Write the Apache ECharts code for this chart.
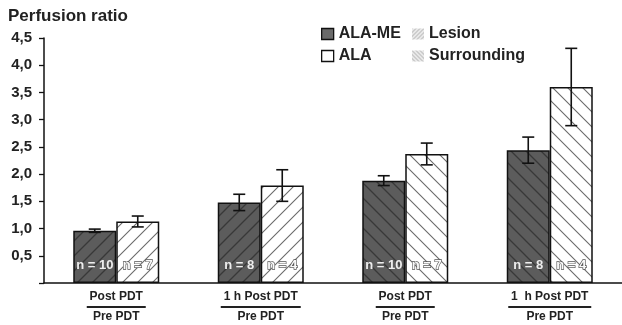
<!DOCTYPE html>
<html>
<head>
<meta charset="utf-8">
<script src="https://cdn.jsdelivr.net/npm/echarts@6/dist/echarts.min.js"></script>
<style>
html,body{margin:0;padding:0;background:#fff;}
#chart{width:622px;height:325px;}
</style>
</head>
<body>
<div id="chart"></div>
<script>
// ---- data ----
var categories = ['Lesion Post', 'Lesion 1h', 'Surrounding Post', 'Surrounding 1h'];
var regions = ['Lesion', 'Lesion', 'Surrounding', 'Surrounding'];
var numerators = ['Post PDT', '1 h Post PDT', 'Post PDT', '1  h Post PDT'];
var denominators = ['Pre PDT', 'Pre PDT', 'Pre PDT', 'Pre PDT'];
var alaMe = [0.96, 1.48, 1.88, 2.44];
var alaMeErr = [0.03, 0.15, 0.09, 0.24];
var ala = [1.13, 1.79, 2.37, 3.60];
var alaErr = [0.10, 0.29, 0.20, 0.71];
var nAlaMe = [10, 8, 10, 8];
var nAla = [7, 4, 7, 4];
var yTicks = ['', '0,5', '1,0', '1,5', '2,0', '2,5', '3,0', '3,5', '4,0', '4,5'];

var FONT = '"Liberation Sans", Arial, Helvetica, sans-serif';

function hatch(bg, fg, dir, s, lw) {
  var c = document.createElement('canvas');
  c.width = s; c.height = s;
  var g = c.getContext('2d');
  if (bg) { g.fillStyle = bg; g.fillRect(0, 0, s, s); }
  g.strokeStyle = fg; g.lineWidth = lw;
  g.beginPath();
  if (dir === '/') {
    g.moveTo(0, s); g.lineTo(s, 0);
    g.moveTo(-s / 2, s / 2); g.lineTo(s / 2, -s / 2);
    g.moveTo(s / 2, s * 1.5); g.lineTo(s * 1.5, s / 2);
  } else {
    g.moveTo(0, 0); g.lineTo(s, s);
    g.moveTo(-s / 2, s / 2); g.lineTo(s / 2, s * 1.5);
    g.moveTo(s / 2, -s / 2); g.lineTo(s * 1.5, s / 2);
  }
  g.stroke();
  return { image: c, repeat: 'repeat' };
}

var darkFill = { Lesion: hatch('#5c5c5c', '#383838', '/', 15, 1.3), Surrounding: hatch('#5c5c5c', '#383838', '\\', 15, 1.3) };
var whiteFill = { Lesion: hatch('#ffffff', '#6a6a6a', '/', 15, 1.1), Surrounding: hatch('#ffffff', '#6a6a6a', '\\', 15, 1.1) };
var legendLesion = hatch('#f4f4f4', '#b0b0b0', '/', 4, 1.4);
var legendSurr = hatch('#f4f4f4', '#b0b0b0', '\\', 4, 1.4);

// measure numerator widths for fraction bars
var mctx = document.createElement('canvas').getContext('2d');
mctx.font = 'bold 12px ' + FONT;
var rich = {
  a: { fontSize: 12, fontWeight: 'bold', fontFamily: FONT, color: '#222', lineHeight: 14, align: 'center' },
  b: { fontSize: 12, fontWeight: 'bold', fontFamily: FONT, color: '#222', lineHeight: 14, align: 'center' }
};
numerators.forEach(function (t, i) {
  rich['r' + i] = { width: Math.round(mctx.measureText(t).width + 6), height: 2, lineHeight: 6, backgroundColor: '#222', align: 'center' };
});

var BW = 43;
function errRender(off) {
  return function (params, api) {
    var i = api.value(0), v = api.value(1), e = api.value(2);
    var hi = api.coord([i, v + e]), lo = api.coord([i, v - e]);
    var x = hi[0] + off;
    var st = { stroke: '#111', lineWidth: 1.6 };
    return {
      type: 'group',
      children: [
        { type: 'line', shape: { x1: x, y1: hi[1], x2: x, y2: lo[1] }, style: st },
        { type: 'line', shape: { x1: x - 6, y1: hi[1], x2: x + 6, y2: hi[1] }, style: st },
        { type: 'line', shape: { x1: x - 6, y1: lo[1], x2: x + 6, y2: lo[1] }, style: st }
      ]
    };
  };
}

var chart = echarts.init(document.getElementById('chart'), null, { renderer: 'canvas' });
chart.setOption({
  animation: false,
  backgroundColor: '#fff',
  textStyle: { fontFamily: FONT },
  title: {
    text: 'Perfusion ratio', left: 3, top: 3,
    textStyle: { fontSize: 17, fontWeight: 'bold', color: '#222', fontFamily: FONT }
  },
  legend: [
    {
      orient: 'vertical', left: 316, top: 21, itemWidth: 12, itemHeight: 11, itemGap: 6, itemTextGap: 5,
      selectedMode: false, icon: 'rect',
      textStyle: { fontSize: 16, fontWeight: 'bold', color: '#222', fontFamily: FONT, lineHeight: 16 },
      data: [
        { name: 'ALA-ME', itemStyle: { color: '#6a6a6a', borderColor: '#111', borderWidth: 1.3 } },
        { name: 'ALA', itemStyle: { color: '#fff', borderColor: '#111', borderWidth: 1.3 } }
      ]
    },
    {
      orient: 'vertical', left: 407, top: 21, itemWidth: 12, itemHeight: 11, itemGap: 6, itemTextGap: 9,
      selectedMode: false, icon: 'rect',
      textStyle: { fontSize: 16, fontWeight: 'bold', color: '#222', fontFamily: FONT, lineHeight: 16 },
      data: [
        { name: 'Lesion', itemStyle: { color: legendLesion, borderWidth: 0 } },
        { name: 'Surrounding', itemStyle: { color: legendSurr, borderWidth: 0 } }
      ]
    }
  ],
  grid: { left: 44, top: 38, width: 582, bottom: 42, containLabel: false },
  xAxis: {
    type: 'category', data: categories,
    axisLine: { lineStyle: { color: '#111', width: 1.5 } },
    axisTick: { show: false },
    axisLabel: {
      interval: 0, margin: 7,
      formatter: function (v, i) { return '{a|' + numerators[i] + '}\n{r' + i + '|}\n{b|' + denominators[i] + '}'; },
      rich: rich
    }
  },
  yAxis: {
    type: 'value', min: 0, max: 4.5, interval: 0.5,
    splitLine: { show: false },
    axisLine: { show: true, lineStyle: { color: '#111', width: 1.5 } },
    axisTick: { show: true, length: 5, lineStyle: { color: '#111', width: 1.3 } },
    axisLabel: {
      margin: 12, fontSize: 15, fontWeight: 'bold', color: '#222', fontFamily: FONT,
      formatter: function (v) { return yTicks[Math.round(v / 0.5)]; }
    }
  },
  series: [
    {
      name: 'ALA-ME', type: 'bar', barWidth: BW, barGap: '0%',
      itemStyle: { color: '#6a6a6a', borderColor: '#111', borderWidth: 1.5 },
      label: {
        show: true, position: 'insideBottom', distance: 11,
        formatter: function (p) { return 'n = ' + nAlaMe[p.dataIndex]; },
        color: '#eeeeee', fontSize: 13, fontWeight: 'bold', fontFamily: FONT
      },
      data: alaMe.map(function (v, i) { return { value: v, itemStyle: { color: darkFill[regions[i]] } }; })
    },
    {
      name: 'ALA', type: 'bar', barWidth: BW, barGap: '0%',
      itemStyle: { color: '#fff', borderColor: '#111', borderWidth: 1.5 },
      label: {
        show: true, position: 'insideBottom', distance: 11,
        formatter: function (p) { return 'n = ' + nAla[p.dataIndex]; },
        color: '#fafafa', textBorderColor: '#555', textBorderWidth: 1.3,
        fontSize: 13, fontWeight: 'bold', fontFamily: FONT
      },
      data: ala.map(function (v, i) { return { value: v, itemStyle: { color: whiteFill[regions[i]] } }; })
    },
    { name: 'Lesion', type: 'scatter', data: [] },
    { name: 'Surrounding', type: 'scatter', data: [] },
    {
      name: 'errAlaMe', type: 'custom', z: 5, silent: true,
      renderItem: errRender(-BW / 2),
      data: alaMe.map(function (v, i) { return [i, v, alaMeErr[i]]; })
    },
    {
      name: 'errAla', type: 'custom', z: 5, silent: true,
      renderItem: errRender(BW / 2),
      data: ala.map(function (v, i) { return [i, v, alaErr[i]]; })
    }
  ]
});
</script>
</body>
</html>
